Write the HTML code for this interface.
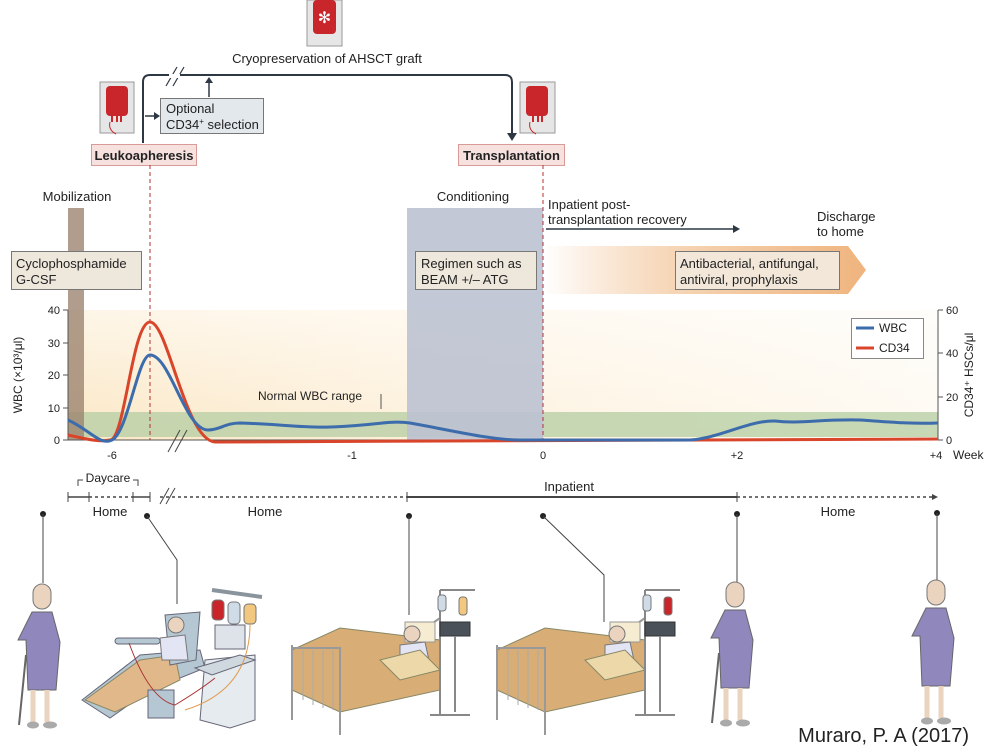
<!DOCTYPE html>
<html><head><meta charset="utf-8"><style>
html,body{margin:0;padding:0;background:#fff;}
svg{display:block;font-family:"Liberation Sans",sans-serif;}
</style></head><body>
<svg width="990" height="749" viewBox="0 0 990 749" xmlns="http://www.w3.org/2000/svg">
<defs>
<linearGradient id="bg" x1="0" y1="0" x2="1" y2="0">
<stop offset="0" stop-color="#fbe7c4"/><stop offset="0.4" stop-color="#fdf0da"/><stop offset="1" stop-color="#fefaf2"/></linearGradient>
<linearGradient id="bgv" x1="0" y1="0" x2="0" y2="1">
<stop offset="0" stop-color="#fff" stop-opacity="0.6"/><stop offset="1" stop-color="#fff" stop-opacity="0"/></linearGradient>
<linearGradient id="pa" x1="0" y1="0" x2="1" y2="0">
<stop offset="0" stop-color="#f3c69c" stop-opacity="0"/><stop offset="0.45" stop-color="#f5d2b0"/><stop offset="1" stop-color="#efb47e"/></linearGradient>
</defs>

<!-- top loop -->
<rect x="307" y="0" width="35" height="46" fill="#e6e6e6" stroke="#999"/>
<rect x="313" y="0" width="23" height="34" rx="4" fill="#c8262a"/>
<text x="324.5" y="23" text-anchor="middle" font-size="16" fill="#fff">✻</text>
<text x="327" y="63" text-anchor="middle" font-size="13" fill="#222">Cryopreservation of AHSCT graft</text>
<path d="M143 143 V82 Q143 75 150 75 H505 Q512 75 512 82 V134" fill="none" stroke="#2d3844" stroke-width="2"/>
<path d="M507 133 L512 141 L517 133 Z" fill="#2d3844"/>
<line x1="166" y1="86" x2="177" y2="67" stroke="#2d3844" stroke-width="1.2"/>
<line x1="173" y1="86" x2="184" y2="67" stroke="#2d3844" stroke-width="1.2"/>
<line x1="169" y1="76" x2="180" y2="76" stroke="#fff" stroke-width="4"/>
<line x1="209" y1="97" x2="209" y2="81" stroke="#2d3844" stroke-width="1.5"/>
<path d="M205 83 L209 77 L213 83 Z" fill="#2d3844"/>
<line x1="145" y1="116" x2="155" y2="116" stroke="#2d3844" stroke-width="1.5"/>
<path d="M154 112 L160 116 L154 120 Z" fill="#2d3844"/>
<rect x="160.5" y="98.5" width="103" height="35" fill="#e3e8ec" stroke="#777"/>
<text x="166" y="113" font-size="13" fill="#222">Optional</text>
<text x="166" y="129" font-size="13" fill="#222">CD34<tspan font-size="8" dy="-5">+</tspan><tspan dy="5"> selection</tspan></text>
<!-- bags -->
<rect x="100" y="82" width="34" height="51" fill="#e6e6e6" stroke="#999"/>
<rect x="106" y="86" width="22" height="30" rx="4" fill="#c8262a"/>
<path d="M112 116v6M117 116v6M121 116v6" stroke="#c8262a" stroke-width="2"/>
<path d="M110 122 q-2 8 6 12" stroke="#c8262a" fill="none"/>
<rect x="520" y="82" width="35" height="51" fill="#e6e6e6" stroke="#999"/>
<rect x="526" y="86" width="22" height="30" rx="4" fill="#c8262a"/>
<path d="M533 116v6M538 116v6M542 116v6" stroke="#c8262a" stroke-width="2"/>
<path d="M530 122 q-2 8 6 12" stroke="#c8262a" fill="none"/>
<rect x="91.5" y="144.5" width="105" height="21" fill="#f7e1df" stroke="#d99a98"/>
<text x="144" y="160" text-anchor="middle" font-size="13" font-weight="bold" fill="#222">Leukoapheresis</text>
<rect x="458.5" y="144.5" width="106" height="21" fill="#f7e1df" stroke="#d99a98"/>
<text x="511.5" y="160" text-anchor="middle" font-size="13" font-weight="bold" fill="#222">Transplantation</text>

<!-- chart backgrounds -->
<rect x="68" y="310" width="870" height="130" fill="url(#bg)"/>
<rect x="68" y="310" width="870" height="130" fill="url(#bgv)"/>
<rect x="68" y="412" width="870" height="25" fill="#b9cfa6" opacity="0.8"/>
<rect x="407" y="208" width="136" height="232" fill="#bcc2d2" opacity="0.9"/>
<rect x="68" y="208" width="16" height="232" fill="#9c8470" opacity="0.8"/>
<path d="M543 246 H848 L866 270 L848 294 H543 Z" fill="url(#pa)"/>
<line x1="150" y1="165" x2="150" y2="440" stroke="#b5312f" stroke-dasharray="4,3"/>
<line x1="543" y1="165" x2="543" y2="440" stroke="#b5312f" stroke-dasharray="4,3"/>

<text x="77" y="201" text-anchor="middle" font-size="13" fill="#222">Mobilization</text>
<text x="473" y="201" text-anchor="middle" font-size="13" fill="#222">Conditioning</text>
<text x="548" y="209" font-size="13" fill="#222">Inpatient post-</text>
<text x="548" y="224" font-size="13" fill="#222">transplantation recovery</text>
<line x1="546" y1="229" x2="735" y2="229" stroke="#2d3844" stroke-width="1.5"/>
<path d="M733 225 L740 229 L733 233 Z" fill="#2d3844"/>
<text x="817" y="221" font-size="13" fill="#222">Discharge</text>
<text x="817" y="236" font-size="13" fill="#222">to home</text>
<rect x="11.5" y="251.5" width="130" height="38" fill="#eee7dc" stroke="#777"/>
<text x="16" y="268" font-size="13" fill="#222">Cyclophosphamide</text>
<text x="16" y="284" font-size="13" fill="#222">G-CSF</text>
<rect x="415.5" y="251.5" width="121" height="38" fill="#eee7dc" stroke="#777"/>
<text x="421" y="268" font-size="13" fill="#222">Regimen such as</text>
<text x="421" y="284" font-size="13" fill="#222">BEAM +/– ATG</text>
<rect x="675.5" y="251.5" width="164" height="38" fill="#f3e7da" stroke="#777"/>
<text x="680" y="268" font-size="13" fill="#222">Antibacterial, antifungal,</text>
<text x="680" y="284" font-size="13" fill="#222">antiviral, prophylaxis</text>

<!-- axes -->
<line x1="68" y1="310" x2="68" y2="440" stroke="#555"/>
<line x1="938" y1="310" x2="938" y2="440" stroke="#555"/>
<line x1="68" y1="440" x2="938" y2="440" stroke="#555"/>
<g font-size="11" fill="#222" text-anchor="end">
<text x="60" y="314">40</text><text x="60" y="347">30</text><text x="60" y="379">20</text><text x="60" y="412">10</text><text x="60" y="444">0</text>
</g>
<g stroke="#555"><path d="M63 310H68M63 343H68M63 375H68M63 408H68M63 440H68M938 310H943M938 353H943M938 397H943M938 440H943"/></g>
<g font-size="11" fill="#222">
<text x="946" y="314">60</text><text x="946" y="357">40</text><text x="946" y="401">20</text><text x="946" y="444">0</text>
</g>
<text transform="translate(22,375) rotate(-90)" text-anchor="middle" font-size="12" fill="#222">WBC (×10³/μl)</text>
<text transform="translate(973,375) rotate(-90)" text-anchor="middle" font-size="12" fill="#222">CD34⁺ HSCs/μl</text>
<g font-size="11" fill="#222" text-anchor="middle">
<text x="112" y="459">-6</text><text x="352" y="459">-1</text><text x="543" y="459">0</text><text x="737" y="459">+2</text><text x="936" y="459">+4</text>
</g>
<text x="953" y="459" font-size="12" fill="#222">Week</text>
<text x="258" y="400" font-size="12" fill="#222">Normal WBC range</text>
<line x1="381" y1="394" x2="381" y2="409" stroke="#555"/>

<path d="M68 435 C90 440 100 442 110 440 C125 440 132 322 150 322 C168 322 185 440 215 442 L938 439" fill="none" stroke="#d9452b" stroke-width="3"/>
<path d="M68 420 C90 430 100 446 112 440 C128 432 138 355 150 355 C170 355 185 430 208 430 C220 430 225 423 240 423 C280 424 300 428 330 427 C370 426 390 420 410 423 C450 430 490 440 520 440 L690 440 C720 438 750 420 775 421 C800 424 820 419 860 420 C890 422 910 424 938 423" fill="none" stroke="#3c6cab" stroke-width="3"/>
<line x1="168" y1="452" x2="180" y2="430" stroke="#444"/><line x1="175" y1="452" x2="187" y2="430" stroke="#444"/>

<rect x="851.5" y="318.5" width="72" height="40" fill="#fff" stroke="#888"/>
<line x1="856" y1="328" x2="874" y2="328" stroke="#3c6cab" stroke-width="3"/>
<text x="879" y="332" font-size="12" fill="#222">WBC</text>
<line x1="856" y1="348" x2="874" y2="348" stroke="#d9452b" stroke-width="3"/>
<text x="879" y="352" font-size="12" fill="#222">CD34</text>

<!-- timeline -->
<text x="108" y="482" text-anchor="middle" font-size="12" fill="#222">Daycare</text>
<path d="M78 486V480H83M133 480H138V486" fill="none" stroke="#444"/>
<path d="M68 497H89M133 497H150" stroke="#444" stroke-width="1.5"/>
<path d="M68 492V502M89 492V502M133 492V502M150 492V502M407 492V502M737 492V502" stroke="#444"/>
<path d="M89 497H133M160 497H407M737 497H934" stroke="#444" stroke-dasharray="3,3" stroke-width="1.5"/>
<path d="M407 497H737" stroke="#444" stroke-width="2"/>
<path d="M932 494L938 497L932 500Z" fill="#444"/>
<line x1="160" y1="504" x2="169" y2="488" stroke="#444"/><line x1="166" y1="504" x2="175" y2="488" stroke="#444"/>
<text x="569" y="491" text-anchor="middle" font-size="13" fill="#222">Inpatient</text>
<g font-size="13" fill="#222" text-anchor="middle"><text x="110" y="516">Home</text><text x="265" y="516">Home</text><text x="838" y="516">Home</text></g>
<g fill="#222"><circle cx="43" cy="514" r="3"/><circle cx="147" cy="516" r="3"/><circle cx="409" cy="516" r="3"/><circle cx="543" cy="516" r="3"/><circle cx="737" cy="514" r="3"/><circle cx="937" cy="513" r="3"/></g>
<g stroke="#444" fill="none"><path d="M43 514V583M147 516L177 560V604M409 516V615M543 516L604 575V622M737 514V583M937 513V580"/></g>

<!-- figures -->
<g>
<rect x="33" y="584" width="18" height="25" rx="9" fill="#ead3bf" stroke="#777"/>
<path d="M32 612 L52 612 L60 642 L56 690 L28 690 L26 640 L18 640 Z" fill="#9088bd" stroke="#666"/>
<path d="M33 690v32M47 690v32" stroke="#ead3bf" stroke-width="5"/>
<ellipse cx="33" cy="725" rx="6" ry="3.5" fill="#aaa"/><ellipse cx="50" cy="725" rx="7" ry="3.5" fill="#aaa"/>
<line x1="26" y1="655" x2="19" y2="725" stroke="#666" stroke-width="2"/>
</g>
<g transform="translate(693,-2)">
<rect x="33" y="584" width="18" height="25" rx="9" fill="#ead3bf" stroke="#777"/>
<path d="M32 612 L52 612 L60 642 L56 690 L28 690 L26 640 L18 640 Z" fill="#9088bd" stroke="#666"/>
<path d="M33 690v32M47 690v32" stroke="#ead3bf" stroke-width="5"/>
<ellipse cx="33" cy="725" rx="6" ry="3.5" fill="#aaa"/><ellipse cx="50" cy="725" rx="7" ry="3.5" fill="#aaa"/>
<line x1="26" y1="655" x2="19" y2="725" stroke="#666" stroke-width="2"/>
</g>
<g transform="translate(894,-4)">
<rect x="33" y="584" width="18" height="25" rx="9" fill="#ead3bf" stroke="#777"/>
<path d="M32 612 L52 612 L60 642 L56 690 L28 690 L26 640 L18 640 Z" fill="#9088bd" stroke="#666"/>
<path d="M33 690v32M47 690v32" stroke="#ead3bf" stroke-width="5"/>
<ellipse cx="33" cy="725" rx="6" ry="3.5" fill="#aaa"/><ellipse cx="50" cy="725" rx="7" ry="3.5" fill="#aaa"/>
</g>
<!-- apheresis chair & machine -->
<path d="M82 700 L140 655 L200 650 L205 668 L150 690 L110 718 Z" fill="#b5c7d3" stroke="#667"/>
<path d="M85 700 L140 660 L175 655 L180 680 L115 712 Z" fill="#e1b889" stroke="#886"/>
<path d="M165 615 L200 612 L196 660 L170 665 Z" fill="#b5c7d3" stroke="#667"/>
<rect x="148" y="690" width="26" height="28" fill="#b5c7d3" stroke="#667"/>
<circle cx="176" cy="625" r="8" fill="#ead3bf" stroke="#777"/>
<path d="M160 638 L185 635 L188 660 L162 660Z" fill="#e3e4f4" stroke="#777"/>
<rect x="115" y="638" width="45" height="6" rx="3" fill="#b5c7d3" stroke="#667"/>
<path d="M205 660 L255 655 L255 720 L230 728 L200 720 Z" fill="#e6ebef" stroke="#667"/>
<path d="M195 668 L240 655 L255 660 L212 675Z" fill="#cfd8de" stroke="#667"/>
<rect x="215" y="625" width="30" height="24" fill="#dde3e8" stroke="#667"/>
<path d="M212 590 L262 597" stroke="#8a949c" stroke-width="4"/>
<rect x="212" y="600" width="12" height="20" rx="4" fill="#c8262a" stroke="#777"/>
<rect x="228" y="602" width="12" height="22" rx="4" fill="#cfdbe6" stroke="#777"/>
<rect x="244" y="604" width="12" height="20" rx="4" fill="#f2c77f" stroke="#777"/>
<path d="M129 643 Q150 700 175 705 Q200 690 215 678" stroke="#a33" fill="none"/>
<path d="M250 624 Q250 690 185 710" stroke="#e09a4a" fill="none"/>
<!-- beds -->
<g>
<path d="M292 650 L340 628 L440 640 L440 690 L340 712 L292 690 Z" fill="#d8ad76" stroke="#886"/>
<path d="M292 645 V720 M292 648 H340 V735 M440 615 V695 M430 625 L440 618" stroke="#999" stroke-width="2" fill="none"/>
<path d="M303 650V700M313 650V705M323 650V708M333 650V710" stroke="#aaa"/>
<rect x="405" y="622" width="30" height="20" fill="#f5ecd2" stroke="#999"/>
<circle cx="412" cy="634" r="8" fill="#ead3bf" stroke="#777"/>
<path d="M400 645 L425 642 L430 665 L400 668Z" fill="#e3e4f4" stroke="#777"/>
<path d="M380 660 L420 650 L440 670 L400 680Z" fill="#ecd8a8" stroke="#886"/>
<path d="M440 590 V715 M430 715 H470 M440 590 L475 590" stroke="#888" stroke-width="2"/>
<rect x="438" y="595" width="8" height="16" rx="3" fill="#cfdbe6" stroke="#777"/>
<rect x="459" y="597" width="8" height="18" rx="3" fill="#f2c77f" stroke="#777"/>
<rect x="440" y="622" width="30" height="14" fill="#4a5158" stroke="#333"/>
<path d="M455 636 V712" stroke="#888" stroke-width="2"/>
</g>
<g transform="translate(205,0)">
<path d="M292 650 L340 628 L440 640 L440 690 L340 712 L292 690 Z" fill="#d8ad76" stroke="#886"/>
<path d="M292 645 V720 M292 648 H340 V735 M440 615 V695 M430 625 L440 618" stroke="#999" stroke-width="2" fill="none"/>
<path d="M303 650V700M313 650V705M323 650V708M333 650V710" stroke="#aaa"/>
<rect x="405" y="622" width="30" height="20" fill="#f5ecd2" stroke="#999"/>
<circle cx="412" cy="634" r="8" fill="#ead3bf" stroke="#777"/>
<path d="M400 645 L425 642 L430 665 L400 668Z" fill="#e3e4f4" stroke="#777"/>
<path d="M380 660 L420 650 L440 670 L400 680Z" fill="#ecd8a8" stroke="#886"/>
<path d="M440 590 V715 M430 715 H470 M440 590 L475 590" stroke="#888" stroke-width="2"/>
<rect x="438" y="595" width="8" height="16" rx="3" fill="#cfdbe6" stroke="#777"/>
<rect x="459" y="597" width="8" height="18" rx="3" fill="#c8262a" stroke="#777"/>
<rect x="440" y="622" width="30" height="14" fill="#4a5158" stroke="#333"/>
<path d="M455 636 V712" stroke="#888" stroke-width="2"/>
</g>
<text x="969" y="742" text-anchor="end" font-size="20" fill="#222">Muraro, P. A (2017)</text>
</svg>
</body></html>
